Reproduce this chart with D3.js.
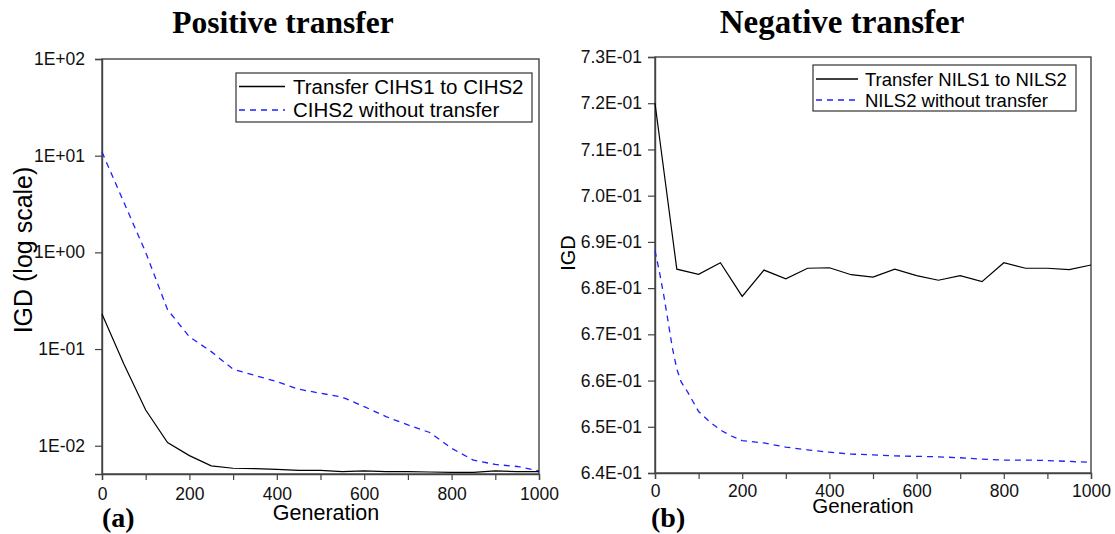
<!DOCTYPE html>
<html>
<head>
<meta charset="utf-8">
<script src="https://cdn.jsdelivr.net/npm/d3@7/dist/d3.min.js"></script>
<style>
  html, body { margin: 0; padding: 0; background: #fff; }
  svg { display: block; }
</style>
</head>
<body>
<svg id="chart" width="1115" height="534"></svg>
<script>
// ---------------- DATA ----------------
const titles = ["Positive transfer", "Negative transfer"];
const panelTags = ["(a)", "(b)"];
const xLabel = "Generation";
const yLabels = ["IGD (log scale)", "IGD"];

const gensA = [0,50,100,150,200,250,300,350,400,450,500,550,600,650,700,750,800,850,900,950,1000];
const transferCIHS = [0.231,0.070,0.0234,0.0108,0.0079,0.0062,0.00585,0.0058,0.0057,0.00557,0.00557,0.0054,0.0055,0.0054,0.0054,0.00535,0.0053,0.0053,0.0055,0.0054,0.0054];
const noTransferCIHS = [10.9,3.3,1.0,0.255,0.134,0.094,0.0618,0.0533,0.046,0.0384,0.0349,0.0318,0.0254,0.020,0.0164,0.0137,0.0094,0.0071,0.0064,0.0061,0.0055];
const seriesNamesA = ["Transfer CIHS1 to CIHS2", "CIHS2 without transfer"];

const gensBTransfer = [0,50,100,150,200,250,300,350,400,450,500,550,600,650,700,750,800,850,900,950,1000];
const transferNILS = [0.7200,0.6841,0.6830,0.6855,0.6782,0.6839,0.6820,0.6843,0.6844,0.6829,0.6824,0.6841,0.6827,0.6817,0.6827,0.6814,0.6855,0.6843,0.6843,0.6840,0.6850];
const gensBNo = [0,10,20,30,40,50,60,75,100,125,150,175,200,250,300,350,400,450,500,550,600,650,700,750,800,850,900,950,1000];
const noTransferNILS = [0.6881,0.6836,0.6785,0.6728,0.6670,0.6625,0.6597,0.6575,0.6533,0.6511,0.6493,0.6480,0.6470,0.6465,0.6456,0.6450,0.6445,0.6441,0.6439,0.6437,0.6436,0.6435,0.6433,0.6430,0.6428,0.6428,0.6427,0.6425,0.6423];
const seriesNamesB = ["Transfer NILS1 to NILS2", "NILS2 without transfer"];

const xTicksMajor = [0,200,400,600,800,1000];
const xTicksAll = [0,100,200,300,400,500,600,700,800,900,1000];
const yTicksA = [0.01,0.1,1,10,100];
const yTicksB = [0.64,0.65,0.66,0.67,0.68,0.69,0.70,0.71,0.72,0.73];

// ---------------- DRAW ----------------
const svg = d3.select("#chart");
const SANS = "'Liberation Sans', Arial, sans-serif";
const SERIF = "'Liberation Serif', 'Times New Roman', serif";
const AXIS = "#444";
const BLUE = "#1f1fff";

function fmtLog(d) {
  const e = Math.round(Math.log10(d));
  return "1E" + (e >= 0 ? "+" : "-") + String(Math.abs(e)).padStart(2, "0");
}
function fmtLin(d) {
  const s = d.toExponential(1);
  const [m, e] = s.split("e");
  const n = parseInt(e, 10);
  return m + "E" + (n >= 0 ? "+" : "-") + String(Math.abs(n)).padStart(2, "0");
}

function panel(cfg) {
  const g = svg.append("g");
  const x = d3.scaleLinear().domain([0, 1000]).range([cfg.left, cfg.right]);
  const y = cfg.y;

  g.append("rect")
    .attr("x", cfg.left).attr("y", cfg.top)
    .attr("width", cfg.right - cfg.left).attr("height", cfg.bottom - cfg.top)
    .attr("fill", "none").attr("stroke", AXIS).attr("stroke-width", 1.4);

  const xAxisG = g.append("g").attr("transform", `translate(0,${cfg.bottom})`)
    .call(d3.axisBottom(x).tickValues(xTicksAll).tickSize(6).tickFormat(d => xTicksMajor.includes(d) ? d : ""));
  xAxisG.select(".domain").attr("stroke", AXIS).attr("stroke-width", 1.4);
  xAxisG.selectAll(".tick line").attr("stroke", AXIS).attr("stroke-width", 1.2);
  xAxisG.selectAll(".tick text").attr("font-family", SANS).attr("font-size", cfg.tickFont)
    .attr("fill", "#111").attr("dy", 0).attr("y", cfg.xTickY - cfg.bottom);

  const yAxisG = g.append("g").attr("transform", `translate(${cfg.left},0)`)
    .call(d3.axisLeft(y).tickValues(cfg.yTicks).tickSize(7).tickPadding(cfg.yPad).tickFormat(cfg.fmt));
  yAxisG.select(".domain").attr("stroke", AXIS).attr("stroke-width", 1.4);
  yAxisG.selectAll(".tick line").attr("stroke", AXIS).attr("stroke-width", 1.2);
  yAxisG.selectAll(".tick text").attr("font-family", SANS).attr("font-size", cfg.tickFont).attr("fill", "#111");

  const line = d3.line().x(d => x(d[0])).y(d => y(d[1]));
  g.append("path")
    .datum(d3.zip(cfg.gensBlack, cfg.black))
    .attr("d", line).attr("fill", "none").attr("stroke", "#000").attr("stroke-width", 1.2);
  g.append("path")
    .datum(d3.zip(cfg.gensBlue, cfg.blue))
    .attr("d", line).attr("fill", "none").attr("stroke", BLUE).attr("stroke-width", 1.3)
    .attr("stroke-dasharray", "6,5");

  const L = cfg.legend;
  g.append("rect").attr("x", L.x).attr("y", L.y).attr("width", L.w).attr("height", L.h)
    .attr("fill", "#fff").attr("stroke", "#333").attr("stroke-width", 1.2);
  cfg.names.forEach((name, i) => {
    const ly = L.y + L.row0 + i * L.rowGap;
    g.append("line").attr("x1", L.x + 3).attr("x2", L.x + L.sample).attr("y1", ly).attr("y2", ly)
      .attr("stroke", i === 0 ? "#000" : BLUE).attr("stroke-width", 1.3)
      .attr("stroke-dasharray", i === 0 ? null : "6,5");
    g.append("text").attr("x", L.x + L.textX).attr("y", ly + L.font * 0.36)
      .attr("font-family", SANS).attr("font-size", L.font).attr("fill", "#000").text(name);
  });

  g.append("text").attr("x", cfg.titleX).attr("y", 33).attr("text-anchor", "middle")
    .attr("font-family", SERIF).attr("font-weight", "bold").attr("font-size", cfg.titleFont).text(cfg.title);
  g.append("text").attr("x", cfg.xLabelX).attr("y", cfg.xLabelY).attr("text-anchor", "middle")
    .attr("font-family", SANS).attr("font-size", cfg.xLabelFont).text(xLabel);
  g.append("text").attr("x", cfg.tagX).attr("y", 527)
    .attr("font-family", SERIF).attr("font-weight", "bold").attr("font-size", 28).text(cfg.tag);
  g.append("text").attr("transform", `translate(${cfg.yLabelX},${cfg.yLabelY}) rotate(-90)`)
    .attr("text-anchor", "middle").attr("font-family", SANS).attr("font-size", cfg.yLabelFont).text(cfg.yLabel);
}

panel({
  left: 102, right: 539, top: 59, bottom: 474,
  y: d3.scaleLog().domain([0.0051, 100]).range([474, 59]),
  yTicks: yTicksA, fmt: fmtLog, yPad: 10, tickFont: 17.5, xTickY: 500,
  gensBlack: gensA, black: transferCIHS, gensBlue: gensA, blue: noTransferCIHS,
  names: seriesNamesA,
  legend: { x: 236, y: 73, w: 296, h: 49, row0: 13.5, rowGap: 23.5, sample: 49, textX: 57, font: 20.5 },
  title: titles[0], titleX: 283, titleFont: 31.5,
  xLabelX: 326, xLabelY: 520, xLabelFont: 21.5,
  tag: panelTags[0], tagX: 102,
  yLabel: yLabels[0], yLabelX: 32, yLabelY: 250, yLabelFont: 25
});

panel({
  left: 655, right: 1091, top: 57, bottom: 473,
  y: d3.scaleLinear().domain([0.64, 0.73]).range([473, 57]),
  yTicks: yTicksB, fmt: fmtLin, yPad: 6, tickFont: 17.5, xTickY: 497,
  gensBlack: gensBTransfer, black: transferNILS, gensBlue: gensBNo, blue: noTransferNILS,
  names: seriesNamesB,
  legend: { x: 813, y: 65, w: 263, h: 46, row0: 14, rowGap: 21, sample: 45, textX: 52, font: 18.5 },
  title: titles[1], titleX: 842, titleFont: 33,
  xLabelX: 863, xLabelY: 513, xLabelFont: 20.5,
  tag: panelTags[1], tagX: 651,
  yLabel: yLabels[1], yLabelX: 575, yLabelY: 253, yLabelFont: 20
});
</script>
</body>
</html>
